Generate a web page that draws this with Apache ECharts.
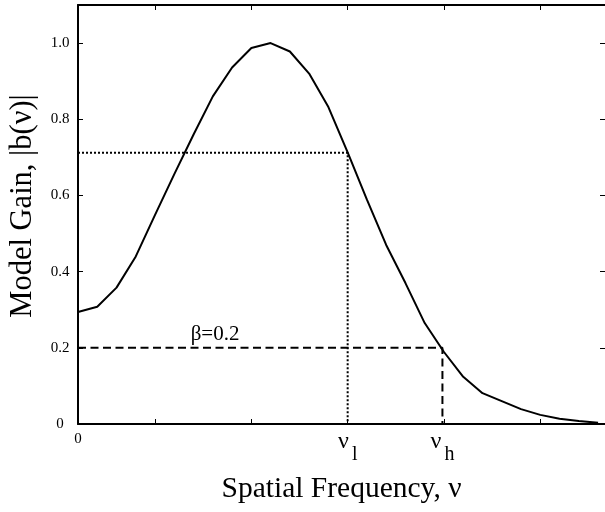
<!DOCTYPE html>
<html>
<head>
<meta charset="utf-8">
<script src="https://cdn.jsdelivr.net/npm/echarts@6/dist/echarts.min.js"></script>
<style>html,body{margin:0;padding:0;background:#fff;}#c{width:605px;height:512px;}</style>
</head>
<body>
<div id="c"></div>
<script>
// frequency steps (arbitrary units, origin = 0)
const freq = [0,1,2,3,4,5,6,7,8,9,10,11,12,13,14,15,16,17,18,19,20,21,22,23,24,25,26,27];
// model gain |b(nu)|
const gain = [0.294,0.308,0.358,0.440,0.549,0.656,0.760,0.860,0.936,0.987,1.000,0.978,0.920,0.832,
              0.713,0.589,0.470,0.370,0.265,0.189,0.124,0.081,0.060,0.039,0.024,0.014,0.008,0.003];
const nuLow = 14.0;
const nuHigh = 18.92;
const halfGain = 0.712;
const beta = 0.2;
const xTicks = [4, 9, 14, 19, 24];
const yTicks = [0.2, 0.4, 0.6, 0.8, 1.0];
const yLabels = [0, 0.2, 0.4, 0.6, 0.8, 1.0];
const xLabels = [0];
const nuMarks = [nuLow, nuHigh];
const nuSubs = ['l', 'h'];
const betaLabelPos = [5.85, 0.235];

const FONT = 'Liberation Serif';
const chart = echarts.init(document.getElementById('c'));
const axLine = {show: true, onZero: false, lineStyle: {color: '#000', width: 2}};
const tick = {show: true, inside: true, length: 5, lineStyle: {color: '#000', width: 1}};
chart.setOption({
  animation: false,
  backgroundColor: '#fff',
  grid: {left: 78, top: 5, width: 528, height: 419},
  xAxis: [{
    type: 'value', min: 0, max: 27.36, position: 'bottom',
    axisLine: axLine,
    axisTick: Object.assign({customValues: xTicks}, tick),
    splitLine: {show: false},
    axisLabel: {customValues: xLabels, margin: 8, color: '#000', fontFamily: FONT, fontSize: 15},
    name: 'Spatial Frequency, ν', nameLocation: 'middle', nameGap: 50,
    nameTextStyle: {fontFamily: FONT, fontSize: 29.5, color: '#000'}
  }, {
    type: 'value', min: 0, max: 27.36, position: 'top',
    axisLine: axLine,
    axisTick: Object.assign({customValues: xTicks}, tick),
    axisLabel: {show: false}, splitLine: {show: false}
  }],
  yAxis: [{
    type: 'value', min: 0, max: 1.1, position: 'left',
    axisLine: axLine,
    axisTick: Object.assign({customValues: yTicks}, tick),
    splitLine: {show: false},
    axisLabel: {
      customValues: yLabels, margin: 18, align: 'center', color: '#000',
      fontFamily: FONT, fontSize: 15,
      formatter: function (v) { return v === 0 ? '0' : v.toFixed(1); }
    }
  }, {
    type: 'value', min: 0, max: 1.1, position: 'right',
    axisLine: {show: false, onZero: false},
    axisTick: Object.assign({customValues: yTicks}, tick),
    axisLabel: {show: false}, splitLine: {show: false}
  }],
  series: [{
    type: 'line', data: freq.map((f, i) => [f, gain[i]]), symbol: 'none',
    lineStyle: {color: '#000', width: 2}, z: 5
  }, {
    type: 'line', data: [[0, halfGain], [nuLow, halfGain], [nuLow, 0]], symbol: 'none',
    lineStyle: {color: '#000', width: 2, type: [2, 2]}
  }, {
    type: 'line', data: [[0, beta], [nuHigh, beta], [nuHigh, 0]], symbol: 'none',
    lineStyle: {color: '#000', width: 2, type: [8, 4.5]}
  }]
});

// text placed through the axis scales
const axisY = chart.convertToPixel({yAxisIndex: 0}, 0);
const betaPx = chart.convertToPixel({xAxisIndex: 0, yAxisIndex: 0}, betaLabelPos);
const subW = {l: 5.5, h: 10};
const nuW = 14;
const graphics = [{
  type: 'text', x: 23, y: 206, rotation: Math.PI / 2,
  style: {text: 'Model Gain, |b(ν)|', font: '30.5px "Liberation Serif"', fill: '#000', align: 'center', verticalAlign: 'middle'}
}, {
  type: 'text', x: betaPx[0], y: betaPx[1],
  style: {text: 'β=' + beta, font: '21px "Liberation Serif"', fill: '#000', align: 'left', verticalAlign: 'middle'}
}];
nuMarks.forEach(function (v, i) {
  const px = chart.convertToPixel({xAxisIndex: 0}, v);
  const sw = subW[nuSubs[i]];
  const left = px - (nuW + sw) / 2;
  graphics.push({type: 'text', x: left, y: axisY + 17.5,
    style: {text: 'ν', font: '24px "Liberation Serif"', fill: '#000', align: 'left', verticalAlign: 'middle'}});
  graphics.push({type: 'text', x: left + nuW, y: axisY + 31,
    style: {text: nuSubs[i], font: '20px "Liberation Serif"', fill: '#000', align: 'left', verticalAlign: 'middle'}});
});
chart.setOption({graphic: graphics});
</script>
</body>
</html>
